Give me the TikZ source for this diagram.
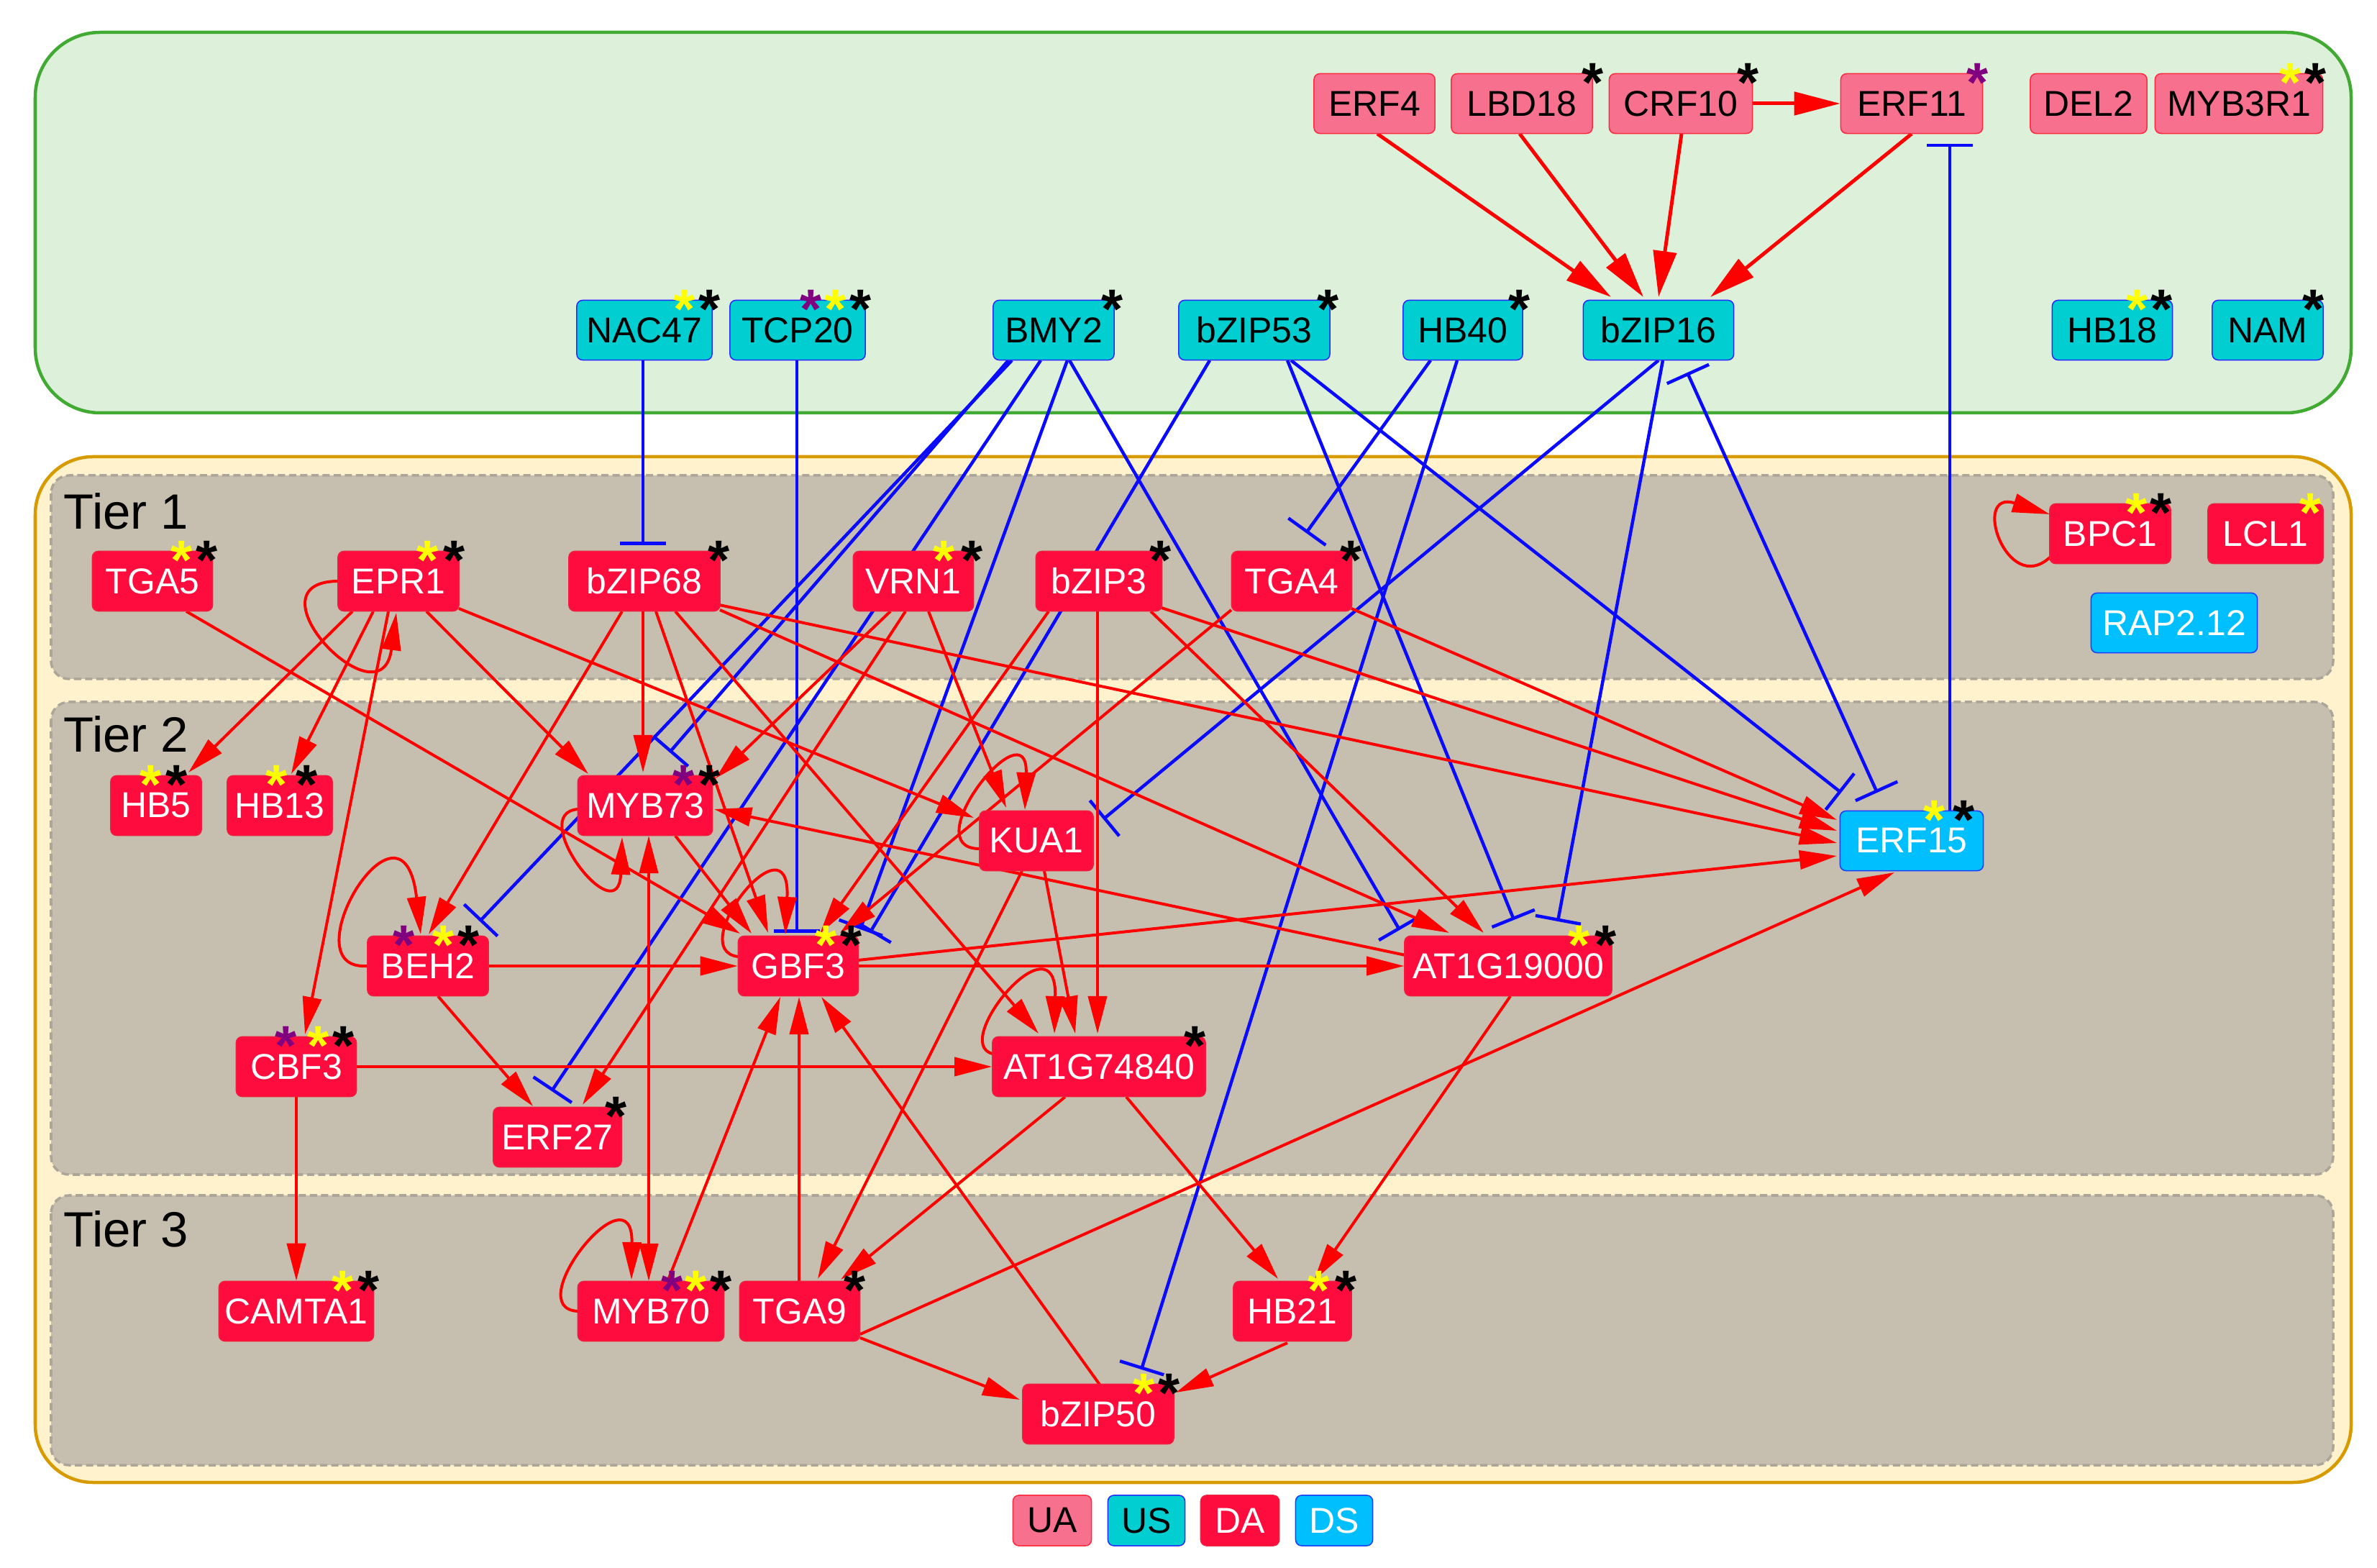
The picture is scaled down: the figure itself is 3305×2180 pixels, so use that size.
\documentclass[tikz,border=0pt]{standalone}
\usepackage{fontspec}
\newfontfamily\lsans{Liberation Sans}
\usetikzlibrary{arrows.meta,calc}
\pgfdeclarelayer{bg}\pgfdeclarelayer{edges}\pgfsetlayers{bg,edges,main}
\definecolor{grnF}{RGB}{221,240,218}
\definecolor{grnD}{RGB}{65,170,50}
\definecolor{orF}{RGB}{255,242,204}
\definecolor{orD}{RGB}{215,155,0}
\definecolor{tierF}{RGB}{198,190,175}
\definecolor{tierD}{RGB}{172,165,153}
\definecolor{uaF}{RGB}{247,113,143}
\definecolor{uaD}{RGB}{255,40,60}
\definecolor{usF}{RGB}{0,206,209}
\definecolor{usD}{RGB}{40,40,255}
\definecolor{daF}{RGB}{255,12,62}
\definecolor{daD}{RGB}{240,30,60}
\definecolor{dsF}{RGB}{0,191,255}
\definecolor{dsD}{RGB}{30,60,255}
\definecolor{redE}{RGB}{255,0,0}
\definecolor{blueE}{RGB}{10,10,255}
\definecolor{stP}{RGB}{128,0,128}
\definecolor{stY}{RGB}{255,255,0}
\tikzset{
  gn/.style={rounded corners=0.08cm, line width=0.015cm, inner xsep=0pt, inner ysep=0pt,
    minimum height=0.83cm, font=\lsans\fontsize{14.2}{16}\selectfont, align=center},
  ua/.style={gn, fill=uaF, draw=uaD, text=black},
  us/.style={gn, fill=usF, draw=usD, text=black},
  da/.style={gn, fill=daF, draw=daD, text=white},
  ds/.style={gn, fill=dsF, draw=dsD, text=white},
  tierlab/.style={anchor=base west, inner sep=0pt, font=\lsans\fontsize{19.6}{22}\selectfont},
  starnode/.style={anchor=base, inner sep=0pt, font=\lsans\bfseries\fontsize{22}{24}\selectfont},
  act/.style={draw=redE, line width=0.04cm, -{Triangle[length=0.52cm,width=0.26cm]}},
  actboth/.style={draw=redE, line width=0.04cm, {Triangle[length=0.52cm,width=0.26cm]}-{Triangle[length=0.52cm,width=0.26cm]}},
  acttop/.style={draw=redE, line width=0.05cm, -{Triangle[length=0.64cm,width=0.32cm]}},
  inh/.style={draw=blueE, line width=0.045cm, -{Bar[width=0.64cm]}},
  inhtwo/.style={draw=blueE, line width=0.045cm, {Bar[width=0.64cm]}-{Bar[width=0.64cm]}},
  tierbox/.style={fill=tierF, draw=tierD, line width=0.035cm, dash pattern=on 0.1cm off 0.055cm, rounded corners=0.25cm}
}
\newcommand\st[3]{\node[starnode,text=#3] at ($(#1.north east)+(#2,40)$) {*};}
\begin{document}
\begin{tikzpicture}[x=0.01cm,y=-0.01cm]
\useasboundingbox (0,0) rectangle (3305,2180);
\begin{pgfonlayer}{bg}
\fill[white] (0,0) rectangle (3305,2180);
\draw[fill=grnF, draw=grnD, line width=0.045cm, rounded corners=0.9cm] (49,45) rectangle (3269,574);
\draw[fill=orF, draw=orD, line width=0.045cm, rounded corners=0.8cm] (49,635) rectangle (3269,2061);
\draw[tierbox] (71,661) rectangle (3244,944);
\draw[tierbox] (71,976) rectangle (3244,1633);
\draw[tierbox] (71,1662) rectangle (3244,2037);
\end{pgfonlayer}
% tier labels
\node[tierlab] (t1) at (88,736) {Tier 1};
\node[tierlab] (t2) at (88,1046) {Tier 2};
\node[tierlab] (t3) at (88,1733) {Tier 3};
% top row
\node[ua, minimum width=1.68cm] (ERF4) at (1911,144) {ERF4};
\node[ua, minimum width=1.96cm] (LBD18) at (2116,144) {LBD18};
\node[ua, minimum width=1.99cm] (CRF10) at (2337,144) {CRF10};
\node[ua, minimum width=1.97cm] (ERF11) at (2658,144) {ERF11};
\node[ua, minimum width=1.62cm] (DEL2) at (2904,144) {DEL2};
\node[ua, minimum width=2.33cm] (MYB3R1) at (3113,144) {MYB3R1};
% second row
\node[us, minimum width=1.88cm] (NAC47) at (896,459) {NAC47};
\node[us, minimum width=1.88cm] (TCP20) at (1109,459) {TCP20};
\node[us, minimum width=1.68cm] (BMY2) at (1465,459) {BMY2};
\node[us, minimum width=2.10cm] (bZIP53) at (1744,459) {bZIP53};
\node[us, minimum width=1.66cm] (HB40) at (2034,459) {HB40};
\node[us, minimum width=2.09cm] (bZIP16) at (2306,459) {bZIP16};
\node[us, minimum width=1.67cm] (HB18) at (2937,459) {HB18};
\node[us, minimum width=1.54cm] (NAM) at (3153,459) {NAM};
% tier 1
\node[da, minimum width=1.67cm] (TGA5) at (212,808) {TGA5};
\node[da, minimum width=1.68cm] (EPR1) at (554,808) {EPR1};
\node[da, minimum width=2.10cm] (bZIP68) at (896,808) {bZIP68};
\node[da, minimum width=1.67cm] (VRN1) at (1270,808) {VRN1};
\node[da, minimum width=1.75cm] (bZIP3) at (1528,808) {bZIP3};
\node[da, minimum width=1.67cm] (TGA4) at (1796,808) {TGA4};
\node[da, minimum width=1.68cm] (BPC1) at (2934,742) {BPC1};
\node[da, minimum width=1.60cm] (LCL1) at (3150,742) {LCL1};
\node[ds, minimum width=2.31cm] (RAP) at (3023,866) {RAP2.12};
% tier 2
\node[da, minimum width=1.26cm] (HB5) at (217,1120) {HB5};
\node[da, minimum width=1.46cm] (HB13) at (389,1120) {HB13};
\node[da, minimum width=1.87cm] (MYB73) at (897,1120) {MYB73};
\node[da, minimum width=1.58cm] (KUA1) at (1441,1169) {KUA1};
\node[ds, minimum width=1.99cm] (ERF15) at (2658,1169) {ERF15};
\node[da, minimum width=1.68cm] (BEH2) at (595,1343) {BEH2};
\node[da, minimum width=1.67cm] (GBF3) at (1110,1343) {GBF3};
\node[da, minimum width=2.88cm] (AT19) at (2097,1343) {AT1G19000};
\node[da, minimum width=1.67cm] (CBF3) at (412,1483) {CBF3};
\node[da, minimum width=2.96cm] (AT74) at (1528,1483) {AT1G74840};
\node[da, minimum width=1.78cm] (ERF27) at (775,1581) {ERF27};
% tier 3
\node[da, minimum width=2.15cm] (CAMTA1) at (412,1823) {CAMTA1};
\node[da, minimum width=2.03cm] (MYB70) at (905,1823) {MYB70};
\node[da, minimum width=1.67cm] (TGA9) at (1112,1823) {TGA9};
\node[da, minimum width=1.64cm] (HB21) at (1797,1823) {HB21};
\node[da, minimum width=2.10cm] (bZIP50) at (1527,1966) {bZIP50};
% legend
\node[ua, minimum width=1.09cm, minimum height=0.70cm] (LUA) at (1463,2114) {UA};
\node[us, minimum width=1.07cm, minimum height=0.70cm] (LUS) at (1594,2114) {US};
\node[da, minimum width=1.09cm, minimum height=0.70cm] (LDA) at (1724,2114) {DA};
\node[ds, minimum width=1.07cm, minimum height=0.70cm] (LDS) at (1855,2114) {DS};

\begin{pgfonlayer}{edges}
% top activations
\draw[acttop] ($(ERF4)+(4,42)$) -- ($(bZIP16)+(-66,-46)$);
\draw[acttop] ($(LBD18)+(-3,42)$) -- ($(bZIP16)+(-21,-46)$);
\draw[acttop] ($(CRF10)+(1,42)$) -- ($(bZIP16)+(0,-46)$);
\draw[acttop] ($(ERF11)+(0,42)$) -- ($(bZIP16)+(72,-46)$);
\draw[acttop] (CRF10.east) -- (ERF11.west);
% inhibitions
\draw[inh] ($(NAC47)+(-2,42)$) -- ($(bZIP68)+(-2,-50)$);
\draw[inh] ($(TCP20)+(-1,42)$) -- ($(GBF3)+(-2,-46)$);
\draw[inh] ($(BMY2)+(-63,42)$) -- ($(MYB73)+(34,-74)$);
\draw[inh] ($(BMY2)+(-58,42)$) -- ($(BEH2)+(72,-62)$);
\draw[inh] ($(BMY2)+(-18,42)$) -- ($(ERF27)+(-8,-64)$);
\draw[inh] ($(BMY2)+(19,42)$) -- ($(GBF3)+(86,-51)$);
\draw[inh] ($(BMY2)+(22,42)$) -- ($(AT19)+(-151,-50)$);
\draw[inh] ($(bZIP53)+(-62,42)$) -- ($(GBF3)+(100,-47)$);
\draw[inh] ($(bZIP53)+(46,42)$) -- ($(AT19)+(8,-64)$);
\draw[inh] ($(bZIP53)+(51,42)$) -- ($(ERF15)+(-98,-67)$);
\draw[inh] ($(HB40)+(-45,42)$) -- ($(TGA4)+(20,-67)$);
\draw[inh] ($(HB40)+(-8,42)$) -- ($(bZIP50)+(60,-62)$);
\draw[inh] ($(bZIP16)+(0,42)$) -- ($(KUA1)+(93,-30)$);
\draw[inh] ($(bZIP16)+(6,42)$) -- ($(AT19)+(69,-62)$);
\draw[inhtwo] ($(bZIP16)+(40,59)$) -- ($(ERF15)+(-48,-67)$);
\draw[inh] ($(ERF15)+(53,-41)$) -- ($(ERF11)+(53,56)$);
% activations
\draw[act] ($(EPR1)+(-64,42)$) -- ($(HB5)+(45,-46)$);
\draw[act] ($(EPR1)+(-35,42)$) -- ($(HB13)+(16,-44)$);
\draw[act] (EPR1.west) .. controls +(-130,2) and +(-21,158) .. ($(EPR1)+(-3,44)$);
\draw[act] ($(EPR1)+(-14,42)$) -- ($(CBF3)+(12,-45)$);
\draw[act] ($(EPR1)+(39,42)$) -- ($(MYB73)+(-79,-44)$);
\draw[act] ($(EPR1)+(84,38)$) -- ($(KUA1)+(-87,-32)$);
\draw[act] ($(TGA5)+(47,42)$) -- ($(GBF3)+(-81,-45)$);
\draw[act] ($(bZIP68)+(-31,42)$) -- ($(BEH2)+(1,-44)$);
\draw[act] (BEH2.west) .. controls +(-111,7) and +(-25,-219) .. ($(BEH2)+(-10,-44)$);
\draw[act] ($(bZIP68)+(-2,42)$) -- ($(MYB73)+(-3,-46)$);
\draw[act] ($(bZIP68)+(16,42)$) -- ($(GBF3)+(-42,-46)$);
\draw[act] ($(bZIP68)+(43,42)$) -- ($(AT74)+(-84,-46)$);
\draw[act] ($(bZIP68)+(104,33)$) -- ($(ERF15)+(-104,3)$);
\draw[act] ($(bZIP68)+(105,40)$) -- ($(AT19)+(-82,-46)$);
\draw[act] ($(VRN1)+(-32,42)$) -- ($(MYB73)+(98,-38)$);
\draw[act] ($(VRN1)+(21,42)$) -- ($(KUA1)+(-42,-46)$);
\draw[act] ($(VRN1)+(-11,42)$) -- ($(ERF27)+(35,-45)$);
\draw[act] ($(bZIP3)+(-70,42)$) -- ($(GBF3)+(30,-45)$);
\draw[act] ($(bZIP3)+(-2,42)$) -- ($(AT74)+(-2,-46)$);
\draw[act] ($(bZIP3)+(72,42)$) -- ($(AT19)+(-34,-46)$);
\draw[act] ($(bZIP3)+(87,37)$) -- ($(ERF15)+(-104,-14)$);
\draw[act] ($(TGA4)+(-84,40)$) -- ($(GBF3)+(58,-46)$);
\draw[act] ($(TGA4)+(83,38)$) -- ($(ERF15)+(-104,-29)$);
\draw[act] ($(KUA1)+(-79,11)$) .. controls +(-92,0) and +(5,-146) .. ($(KUA1)+(-16,-43)$);
\draw[act] ($(KUA1)+(-20,42)$) -- ($(TGA9)+(25,-45)$);
\draw[act] ($(KUA1)+(11,42)$) -- ($(AT74)+(-33,-46)$);
\draw[act] (BEH2.east) -- (GBF3.west);
\draw[act] ($(BEH2)+(14,42)$) -- ($(ERF27)+(-34,-43)$);
\draw[act] ($(MYB73)+(-93,5)$) .. controls +(-74,5) and +(-5,136) .. ($(MYB73)+(-32,44)$);
\draw[act] ($(MYB73)+(42,42)$) -- ($(GBF3)+(-65,-45)$);
\draw[actboth] ($(MYB73)+(5,42)$) -- ($(MYB70)+(-3,-42)$);
\draw[act] ($(GBF3)+(-84,-13)$) .. controls +(-76,-10) and +(8,-169) .. ($(GBF3)+(-18,-44)$);
\draw[act] (GBF3.east) -- (AT19.west);
\draw[act] ($(GBF3)+(83,-8)$) -- ($(ERF15)+(-104,21)$);
\draw[act] ($(AT19)+(-143,-15)$) -- ($(MYB73)+(96,5)$);
\draw[act] ($(AT19)+(3,42)$) -- ($(HB21)+(30,-43)$);
\draw[act] (CBF3.east) -- (AT74.west);
\draw[act] (CBF3.south) -- (CAMTA1.north);
\draw[act] ($(AT74)+(-148,-18)$) .. controls +(-60,-15) and +(4,-167) .. ($(AT74)+(-62,-46)$);
\draw[act] ($(AT74)+(-47,42)$) -- ($(TGA9)+(57,-44)$);
\draw[act] ($(AT74)+(38,42)$) -- ($(HB21)+(-20,-45)$);
\draw[act] ($(MYB70)+(-101,0)$) .. controls +(-84,-3) and +(2,-159) .. ($(MYB70)+(-27,-44)$);
\draw[act] ($(MYB70)+(23,-41)$) -- ($(GBF3)+(-25,43)$);
\draw[act] ($(TGA9)+(-1,-41)$) -- ($(GBF3)+(1,43)$);
\draw[act] ($(bZIP50)+(2,-41)$) -- ($(GBF3)+(32,43)$);
\draw[act] ($(TGA9)+(84,37)$) -- ($(bZIP50)+(-109,-20)$);
\draw[act] ($(TGA9)+(84,32)$) -- ($(ERF15)+(-24,44)$);
\draw[act] ($(HB21)+(-7,44)$) -- ($(bZIP50)+(108,-30)$);
\draw[act] ($(BPC1)+(-84,33)$) .. controls +(-60,55) and +(-110,-35) .. ($(BPC1)+(-84,-27)$);
\end{pgfonlayer}
% asterisks
\st{NAC47}{-39}{stY}\st{NAC47}{-4}{black}
\st{TCP20}{-76}{stP}\st{TCP20}{-42}{stY}\st{TCP20}{-7}{black}
\st{BMY2}{-3}{black}
\st{bZIP53}{-3}{black}
\st{HB40}{-5}{black}
\st{HB18}{-50}{stY}\st{HB18}{-16}{black}
\st{NAM}{-14}{black}
\st{LBD18}{0}{black}
\st{CRF10}{-7}{black}
\st{ERF11}{-8}{stP}
\st{MYB3R1}{-46}{stY}\st{MYB3R1}{-11}{black}
\st{TGA5}{-44}{stY}\st{TGA5}{-9}{black}
\st{EPR1}{-44}{stY}\st{EPR1}{-7}{black}
\st{bZIP68}{-2}{black}
\st{VRN1}{-42}{stY}\st{VRN1}{-3}{black}
\st{bZIP3}{-3}{black}
\st{TGA4}{-2}{black}
\st{BPC1}{-48}{stY}\st{BPC1}{-14}{black}
\st{LCL1}{-18}{stY}
\st{HB5}{-71}{stY}\st{HB5}{-35}{black}
\st{HB13}{-78}{stY}\st{HB13}{-36}{black}
\st{MYB73}{-41}{stP}\st{MYB73}{-5}{black}
\st{ERF15}{-69}{stY}\st{ERF15}{-28}{black}
\st{BEH2}{-118}{stP}\st{BEH2}{-63}{stY}\st{BEH2}{-28}{black}
\st{GBF3}{-46}{stY}\st{GBF3}{-11}{black}
\st{AT19}{-46}{stY}\st{AT19}{-9}{black}
\st{CBF3}{-99}{stP}\st{CBF3}{-54}{stY}\st{CBF3}{-19}{black}
\st{AT74}{-15}{black}
\st{ERF27}{-8}{black}
\st{CAMTA1}{-44}{stY}\st{CAMTA1}{-8}{black}
\st{MYB70}{-73}{stP}\st{MYB70}{-40}{stY}\st{MYB70}{-5}{black}
\st{TGA9}{-8}{black}
\st{HB21}{-46}{stY}\st{HB21}{-8}{black}
\st{bZIP50}{-42}{stY}\st{bZIP50}{-7}{black}
\end{tikzpicture}
\end{document}
